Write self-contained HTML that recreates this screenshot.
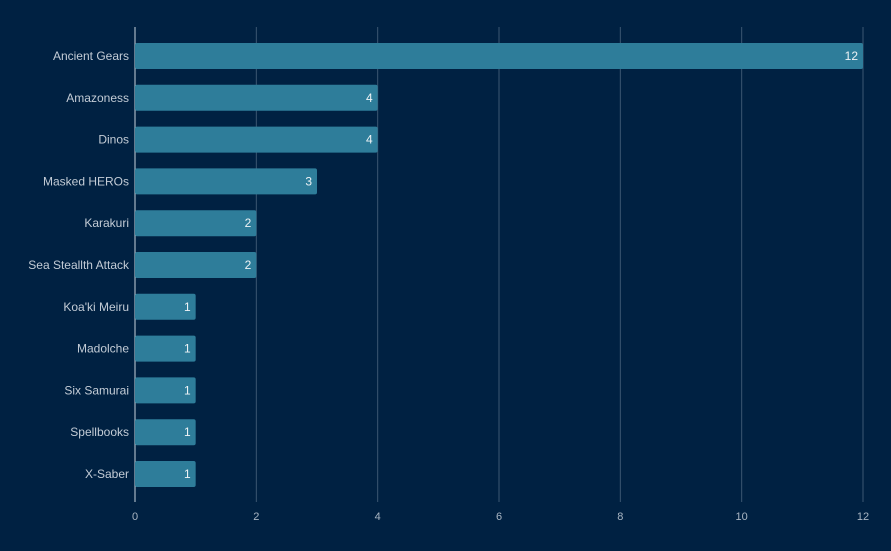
<!DOCTYPE html>
<html><head><meta charset="utf-8"><style>
html,body{margin:0;padding:0;background:#002142;}
svg{display:block;font-family:"Liberation Sans",sans-serif;}
</style></head><body>
<svg id="chart" width="891" height="551" viewBox="0 0 891 551" xmlns="http://www.w3.org/2000/svg">
<rect x="0" y="0" width="891" height="551" fill="#002142"/>
<g id="grid"></g><g id="bars"></g><g id="labels"></g><g id="ticks"></g>
</svg>
<script>
const categories = ["Ancient Gears","Amazoness","Dinos","Masked HEROs","Karakuri","Sea Steallth Attack","Koa'ki Meiru","Madolche","Six Samurai","Spellbooks","X-Saber"];
const values = [12,4,4,3,2,2,1,1,1,1,1];
const tickValues = [0,2,4,6,8,10,12];
const NS="http://www.w3.org/2000/svg";
const x0=135,x1=863,xmax=12;
const xs=v=>x0+(x1-x0)*v/xmax;
const top0=43,step=41.8,bh=26;
const ys=i=>top0+i*step;
function mk(tag,attrs,parent){const e=document.createElementNS(NS,tag);for(const k in attrs)e.setAttribute(k,attrs[k]);parent.appendChild(e);return e;}
const grid=document.getElementById('grid'),bars=document.getElementById('bars'),labels=document.getElementById('labels'),ticks=document.getElementById('ticks');
tickValues.forEach(t=>{
  const l=mk('line',{x1:xs(t),x2:xs(t),y1:27,y2:502,stroke:t===0?'#c8d3dc':'#3b5671','stroke-width':1},grid);
  
  
  const tx=mk('text',{x:xs(t),y:520,'text-anchor':'middle','font-size':11,fill:'#a9b6c3'},ticks);
  tx.textContent=t;
  
  
});
categories.forEach((c,i)=>{
  const y=ys(i);
  const r=mk('rect',{x:x0,y:y,width:xs(values[i])-x0,height:bh,rx:2,fill:'#2e7d9a'},bars);
  
  
  const v=mk('text',{x:xs(values[i])-5,y:y+bh/2+4,'text-anchor':'end','font-size':12,fill:'#eef3f6'},bars);
  v.textContent=values[i];
  
  
  const lb=mk('text',{x:129,y:y+bh/2+4,'text-anchor':'end','font-size':12,fill:'#c3ccd6'},labels);
  lb.textContent=c;
  
  
});
</script>
</body></html>
